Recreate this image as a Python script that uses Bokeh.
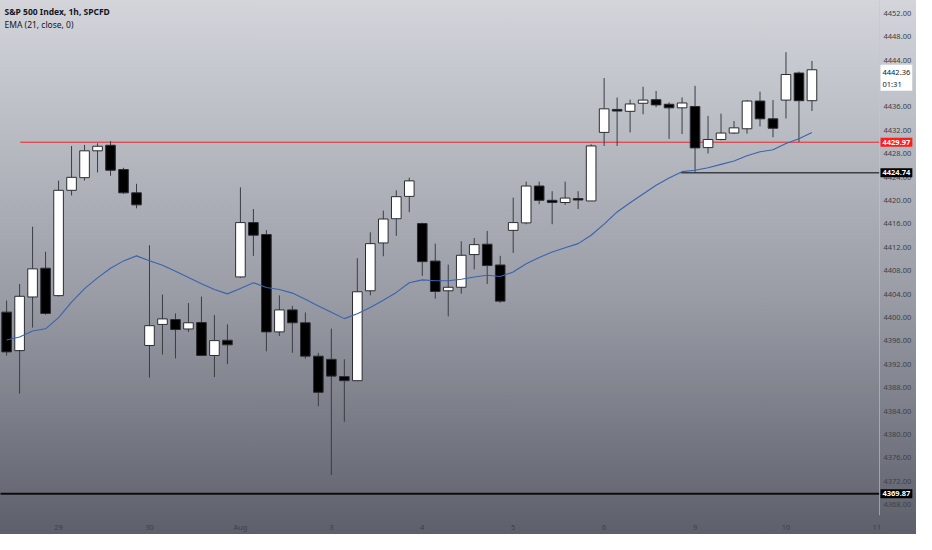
from bokeh.embed import file_html
from bokeh.models import ColumnDataSource, FixedTicker, InlineStyleSheet, Label, Range1d
from bokeh.plotting import figure
from bokeh.resources import INLINE

# S&P 500 Index, 1h bars: last bars of Jul 28 through Aug 10
opens = [4400.92, 4394.34, 4403.51, 4408.43, 4403.74, 4421.75, 4423.91, 4428.50, 4429.45, 4425.30,
         4421.32, 4395.22, 4398.82, 4399.65, 4398.04, 4399.15, 4393.51, 4396.11, 4406.94, 4416.23,
         4414.19, 4397.54, 4401.30, 4399.10, 4393.39, 4392.85, 4389.91, 4389.20, 4404.57, 4412.75,
         4416.89, 4420.71, 4416.06, 4409.65, 4404.57, 4405.17, 4410.76, 4412.53, 4408.98, 4414.90,
         4416.18, 4422.48, 4420.04, 4419.66, 4420.33, 4419.93, 4431.65, 4435.58, 4435.25, 4436.63,
         4437.24, 4436.46, 4435.85, 4436.08, 4429.05, 4430.44, 4431.54, 4432.27, 4437.01, 4433.97,
         4437.17, 4441.80, 4437.07]
highs = [4402.91, 4405.73, 4415.52, 4411.25, 4423.41, 4429.33, 4429.50, 4429.78, 4430.16, 4425.60,
         4422.86, 4412.36, 4403.91, 4400.69, 4402.46, 4403.58, 4400.42, 4398.82, 4422.25, 4418.55,
         4414.95, 4403.79, 4401.97, 4400.86, 4393.96, 4398.10, 4392.85, 4410.14, 4414.57, 4418.27,
         4421.75, 4423.91, 4416.20, 4412.63, 4409.05, 4413.03, 4413.58, 4414.79, 4410.54, 4420.49,
         4423.24, 4423.24, 4421.59, 4423.24, 4421.59, 4429.61, 4440.94, 4437.62, 4437.24, 4439.45,
         4438.73, 4436.79, 4437.62, 4439.61, 4434.47, 4434.85, 4433.59, 4437.17, 4438.62, 4437.17,
         4445.37, 4442.05, 4443.87]
lows = [4393.51, 4386.99, 4398.27, 4400.47, 4403.60, 4420.87, 4423.41, 4424.80, 4424.24, 4421.15,
        4418.67, 4389.70, 4393.68, 4393.01, 4397.54, 4393.40, 4389.81, 4392.02, 4406.80, 4410.54,
        4394.22, 4396.83, 4393.96, 4392.96, 4384.84, 4373.06, 4382.18, 4389.10, 4403.79, 4410.47,
        4413.96, 4418.00, 4407.11, 4403.24, 4400.19, 4404.07, 4408.22, 4405.73, 4402.51, 4411.04,
        4415.95, 4419.38, 4415.95, 4419.26, 4418.55, 4419.90, 4429.33, 4429.33, 4431.65, 4434.75,
        4435.96, 4430.54, 4431.37, 4424.74, 4428.05, 4430.30, 4431.40, 4431.44, 4432.65, 4430.82,
        4434.02, 4430.00, 4435.30]
closes = [4394.12, 4403.63, 4408.32, 4400.69, 4421.75, 4423.97, 4428.50, 4429.28, 4425.18, 4421.32,
          4419.26, 4398.60, 4399.76, 4397.94, 4399.10, 4393.51, 4396.05, 4395.33, 4416.23, 4414.07,
          4397.54, 4401.30, 4399.10, 4393.39, 4387.21, 4389.98, 4389.20, 4404.40, 4412.63, 4416.84,
          4420.66, 4423.36, 4409.55, 4404.45, 4405.17, 4410.64, 4412.46, 4408.88, 4402.80, 4416.23,
          4422.48, 4420.04, 4419.66, 4420.42, 4420.09, 4429.33, 4435.68, 4435.30, 4436.51, 4437.17,
          4436.35, 4435.85, 4436.68, 4429.00, 4430.44, 4431.54, 4432.43, 4437.01, 4433.97, 4432.36,
          4441.55, 4437.07, 4442.36]
ema21 = [4396.16, 4396.66, 4397.70, 4398.07, 4399.98, 4402.63, 4404.95, 4406.78, 4408.43, 4409.68,
         4410.54, 4409.71, 4408.93, 4407.93, 4406.86, 4405.78, 4404.79, 4404.04, 4404.95, 4405.95,
         4405.12, 4404.79, 4404.17, 4403.13, 4401.97, 4400.89, 4399.81, 4400.64, 4401.72, 4402.96,
         4404.29, 4405.95, 4406.44, 4406.28, 4406.28, 4406.53, 4406.94, 4407.22, 4407.02, 4407.77,
         4409.18, 4410.26, 4411.21, 4411.92, 4412.63, 4414.07, 4415.98, 4418.05, 4419.63, 4421.12,
         4422.61, 4423.86, 4424.94, 4425.18, 4425.60, 4426.18, 4426.76, 4427.67, 4428.33, 4428.67,
         4429.74, 4430.57, 4431.65]

# bar index of the first bar of each session
day_ticks = [4, 11, 18, 25, 32, 39, 46, 53, 60, 67]
day_labels = ["29", "30", "Aug", "3", "4", "5", "6", "9", "10", "11"]
price_ticks = [4368, 4372, 4376, 4380, 4384, 4388, 4392, 4396, 4400, 4404, 4408, 4412,
               4416, 4420, 4424, 4428, 4432, 4436, 4440, 4444, 4448, 4452]

# horizontal lines: price, bar where the line starts
level_values = [4429.97, 4424.74, 4369.87]
level_starts = [1.05, 51.9, -1.0]
level_colors = ["#f0262b", "#3c3f46", "#0c0d10"]
level_widths = [1, 1.5, 1.8]
level_label_bg = ["#ff1c1c", "#000000", "#000000"]

last_price = 4442.36
countdown = "01:31"

W, H = 916, 534
SCALE_W = 37          # width of the price scale strip
BOTTOM = 19           # height of the time scale
X_START, X_PLOT_END = -0.47, 67.2   # bars visible in the chart pane
X_END = X_PLOT_END + SCALE_W * (X_PLOT_END - X_START) / (W - SCALE_W)
Y_START, Y_END = 4366.15, 4454.2
FONT = "Noto Sans"

idx = list(range(len(opens)))
src = ColumnDataSource(dict(
    x=idx,
    high=highs,
    low=lows,
    top=[max(o, c) for o, c in zip(opens, closes)],
    bottom=[min(o, c) for o, c in zip(opens, closes)],
    fill=["#ffffff" if c >= o else "#000000" for o, c in zip(opens, closes)],
))

p = figure(width=W, height=H, output_backend="svg", toolbar_location=None,
           x_range=Range1d(X_START, X_END), y_range=Range1d(Y_START, Y_END),
           y_axis_location="right", min_border_left=0, min_border_top=0,
           min_border_right=0, min_border_bottom=BOTTOM)

p.stylesheets = [InlineStyleSheet(css=":host { background: linear-gradient(to bottom, #d3d5db 0%, #9a9da6 55%, #5d606b 100%); }")]
p.background_fill_alpha = 0
p.border_fill_alpha = 0
p.outline_line_color = None
p.grid.visible = False

for lv, ls, lc, lw in zip(level_values, level_starts, level_colors, level_widths):
    p.segment(x0=ls, y0=lv, x1=X_PLOT_END, y1=lv, line_color=lc, line_width=lw)

p.segment(x0="x", y0="low", x1="x", y1="high", line_color="#3a3d44", line_width=1, source=src)
p.vbar(x="x", width=0.74, top="top", bottom="bottom", fill_color="fill",
       line_color="#2a2c31", line_width=1, source=src)
p.line(idx, ema21, line_color="#3b63ad", line_width=1.1)

# axes; the price scale sits at the right end of the chart pane
p.xaxis.ticker = FixedTicker(ticks=day_ticks)
p.xaxis.major_label_overrides = {t: s for t, s in zip(day_ticks, day_labels)}
p.yaxis.ticker = FixedTicker(ticks=price_ticks)
p.yaxis.major_label_overrides = {t: f"{t:.2f}" for t in price_ticks}
p.yaxis.fixed_location = X_PLOT_END
for ax in (p.xaxis, p.yaxis):
    ax.major_label_text_font = FONT
    ax.major_label_text_font_size = "7.5px"
    ax.major_label_text_color = "#3d4049"
    ax.major_tick_line_color = None
    ax.minor_tick_line_color = None
    ax.major_tick_out = 0
    ax.major_tick_in = 0
    ax.minor_tick_out = 0
    ax.major_label_standoff = 6
p.xaxis.axis_line_color = None
p.yaxis.axis_line_color = "#c4c6cc"
p.yaxis.axis_line_alpha = 0.6
p.yaxis.major_label_standoff = 4

# price tags on the scale
for lv, bg in zip(level_values, level_label_bg):
    p.add_layout(Label(x=X_PLOT_END, y=lv, x_offset=1, text=f"{lv:.2f}", text_baseline="middle",
                       text_font=FONT, text_font_size="7.5px", text_font_style="bold",
                       text_color="#ffffff", background_fill_color=bg, padding=2))
p.add_layout(Label(x=X_PLOT_END, y=last_price, text=f"{last_price:.2f}\n{countdown}", x_offset=1,
                   y_offset=5, text_baseline="top", text_font=FONT, text_font_size="7.5px",
                   text_color="#131722", background_fill_color="#ffffff", padding=2))

# legend texts
p.add_layout(Label(x=X_START, y=Y_END, x_offset=4, y_offset=-5, text="S&P 500 Index, 1h, SPCFD",
                   text_baseline="top", text_font=FONT, text_font_size="8.5px",
                   text_font_style="bold", text_color="#131722"))
p.add_layout(Label(x=X_START, y=Y_END, x_offset=4, y_offset=-18, text="EMA (21, close, 0)",
                   text_baseline="top", text_font=FONT, text_font_size="8.5px",
                   text_color="#131722"))

open("out.html", "w").write(file_html(p, INLINE))
